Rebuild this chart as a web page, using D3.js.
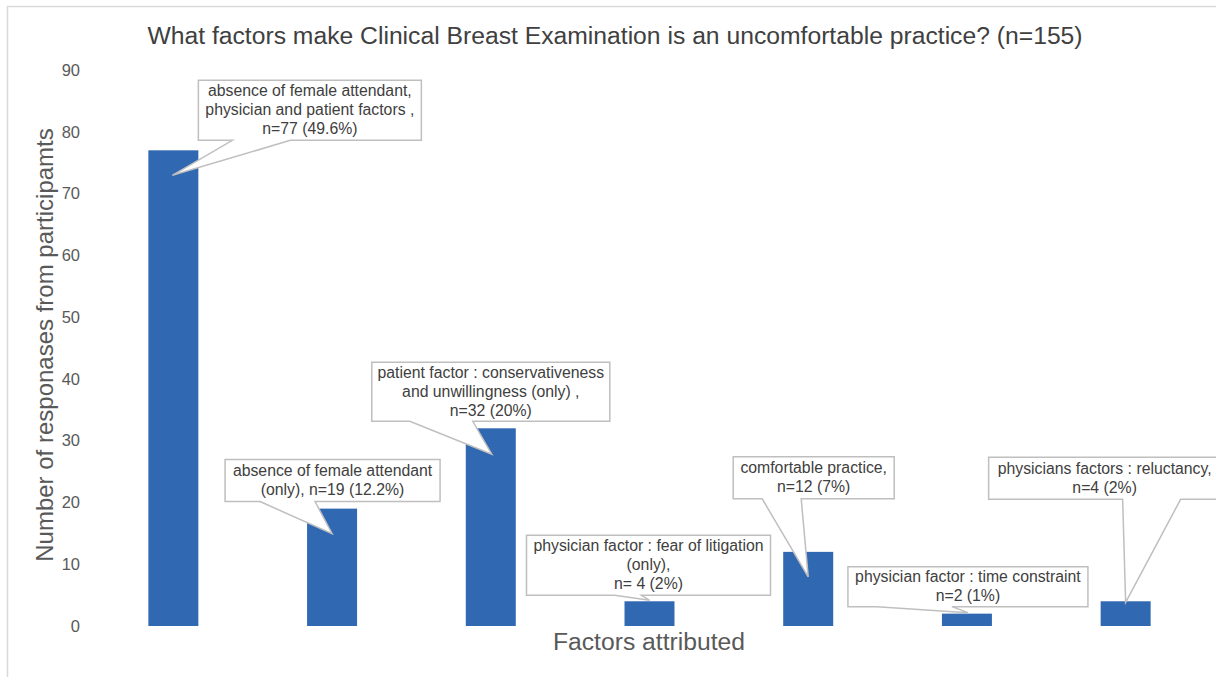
<!DOCTYPE html>
<html>
<head>
<meta charset="utf-8">
<script src="https://cdn.jsdelivr.net/npm/d3@7/dist/d3.min.js"></script>
<style>
  body { margin: 0; background: #fff; }
  text { font-family: "Liberation Sans", Arial, sans-serif; }
</style>
</head>
<body>
<div id="chart"></div>
<script>
// data
var categories = ["both", "female", "patient", "litigation", "comfortable", "time", "reluctancy"];
var responses = [77, 19, 32, 4, 12, 2, 4];
var calloutText = [
  ["absence of female attendant,", "physician and patient factors ,", "n=77 (49.6%)"],
  ["absence of female attendant", "(only), n=19 (12.2%)"],
  ["patient factor : conservativeness", "and unwillingness (only) ,", "n=32 (20%)"],
  ["physician factor : fear of litigation", "(only),", "n= 4 (2%)"],
  ["comfortable practice,", "n=12 (7%)"],
  ["physician factor : time constraint", "n=2 (1%)"],
  ["physicians factors : reluctancy,", "n=4 (2%)"]
];
var yTicks = [0, 10, 20, 30, 40, 50, 60, 70, 80, 90];

// callout boxes, relative to bar centre / bar top
var calloutLayout = [
  {bx: 25, by: -70, bw: 223, bh: 60, p1: 59, p2: 117, tx: -1, ty: 25},
  {bx: -107, by: -49, bw: 215, bh: 42, p1: -72, p2: -17, tx: 0, ty: 25},
  {bx: -119, by: -66, bw: 238, bh: 59, p1: -81, p2: -18, tx: 1, ty: 26},
  {bx: -123, by: -66, bw: 244, bh: 60, p1: -35, p2: -8, tx: 0, ty: -1},
  {bx: -75, by: -95, bw: 161, bh: 42, p1: -46, p2: -7, tx: 0, ty: 25},
  {bx: -119, by: -47, bw: 240, bh: 40, p1: -90, p2: -15, tx: 1, ty: -1},
  {bx: -137, by: -144, bw: 232, bh: 42, p1: -3, p2: 55, tx: 0, ty: 1}
];

var width = 1216,
    height = 677;

var svg = d3.select("#chart").append("svg")
    .attr("width", width)
    .attr("height", height);

// outer frame (only top and left visible)
svg.append("path")
    .attr("d", "M7.5,677V6.5H1216")
    .attr("fill", "none")
    .attr("stroke", "#d9d9d9")
    .attr("stroke-width", 1.5);

var x = d3.scaleBand()
    .domain(categories)
    .range([94, 1205])
    .paddingInner(0.685)
    .paddingOuter(0.3425);

var y = d3.scaleLinear()
    .domain([0, 90])
    .range([626, 70]);

// y axis, labels only
var yAxis = svg.append("g")
    .attr("transform", "translate(94,0)")
    .call(d3.axisLeft(y).tickValues(yTicks).tickSize(0).tickPadding(14));
yAxis.select(".domain").remove();
yAxis.selectAll("text")
    .attr("fill", "#595959")
    .style("font-size", "16.5px")
    .style("font-family", "'Liberation Sans', Arial, sans-serif");

// bars
svg.append("g").selectAll("rect")
    .data(responses)
    .join("rect")
    .attr("x", function (d, i) { return x(categories[i]); })
    .attr("width", x.bandwidth())
    .attr("y", function (d) { return y(d); })
    .attr("height", function (d) { return y(0) - y(d); })
    .attr("fill", "#3068b2");

// callouts
var callouts = svg.append("g").selectAll("g")
    .data(responses)
    .join("g");

callouts.append("path")
    .attr("d", function (d, i) {
      var cx = x(categories[i]) + x.bandwidth() / 2,
          top = y(d),
          L = calloutLayout[i],
          x0 = cx + L.bx, x1 = x0 + L.bw,
          y0 = top + L.by, y1 = y0 + L.bh;
      return "M" + x0 + "," + y0 + "H" + x1 + "V" + y1 +
        "H" + (cx + L.p2) + "L" + (cx + L.tx) + "," + (top + L.ty) +
        "L" + (cx + L.p1) + "," + y1 + "H" + x0 + "Z";
    })
    .attr("fill", "#fff")
    .attr("stroke", "#bfbfbf")
    .attr("stroke-width", 1.5);

callouts.append("text")
    .attr("text-anchor", "middle")
    .attr("fill", "#404040")
    .style("font-size", "15.8px")
    .each(function (d, i) {
      var cx = x(categories[i]) + x.bandwidth() / 2,
          L = calloutLayout[i],
          lines = calloutText[i],
          mid = y(d) + L.by + L.bh / 2,
          lh = 19,
          first = mid - (lines.length - 1) * lh / 2 + 5;
      var t = d3.select(this);
      lines.forEach(function (s, k) {
        t.append("tspan")
          .attr("x", cx + L.bx + L.bw / 2)
          .attr("y", first + k * lh)
          .text(s);
      });
    });

// titles
svg.append("text")
    .attr("x", 615)
    .attr("y", 44)
    .attr("text-anchor", "middle")
    .attr("fill", "#404040")
    .style("font-size", "24.7px")
    .text("What factors make Clinical Breast Examination is an uncomfortable practice? (n=155)");

svg.append("text")
    .attr("x", 649)
    .attr("y", 650)
    .attr("text-anchor", "middle")
    .attr("fill", "#595959")
    .style("font-size", "24.7px")
    .text("Factors attributed");

svg.append("text")
    .attr("transform", "translate(53,345) rotate(-90)")
    .attr("text-anchor", "middle")
    .attr("fill", "#595959")
    .style("font-size", "24px")
    .text("Number of responases from participamts");
</script>
</body>
</html>
